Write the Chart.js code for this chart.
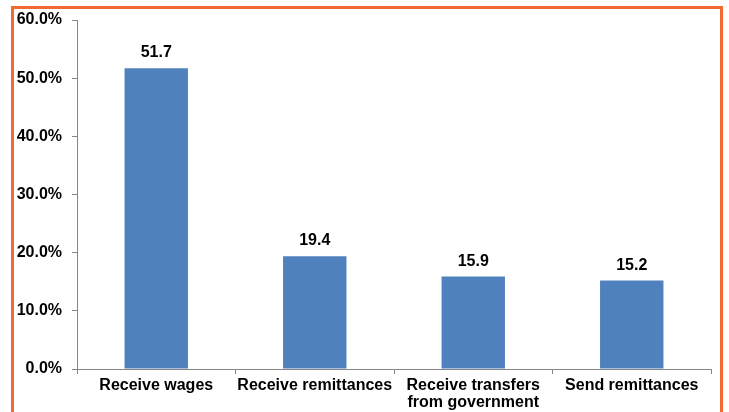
<!DOCTYPE html>
<html>
<head>
<meta charset="utf-8">
<script src="https://cdn.jsdelivr.net/npm/chart.js@4.4.0/dist/chart.umd.min.js"></script>
<style>
  html, body { margin: 0; padding: 0; background: #fff; overflow: hidden; }
  #frame {
    position: absolute; left: 11px; top: 6px;
    width: 706px; height: 500px;
    border: 3px solid #F26A2D;
  }
  #wrap { position: absolute; left: 0; top: 0; width: 729px; height: 412px; }
</style>
</head>
<body>
<div id="frame"></div>
<div id="wrap"><canvas id="bar-chart" width="729" height="412"></canvas></div>
<script>
// share of people in each group
let categories = ["Receive wages", "Receive remittances", ["Receive transfers", "from government"], "Send remittances"];
let shares = [51.7, 19.4, 15.9, 15.2];
let yTicks = [0, 10, 20, 30, 40, 50, 60];

const FONT = "'Liberation Sans', Arial, sans-serif";

// prints the value above each bar
let valueLabels = {
  id: "valueLabels",
  afterDatasetsDraw(chart) {
    let ctx = chart.ctx;
    let meta = chart.getDatasetMeta(0);
    ctx.save();
    ctx.font = "bold 16px " + FONT;
    ctx.fillStyle = "#000";
    ctx.textAlign = "center";
    ctx.textBaseline = "alphabetic";
    meta.data.forEach((bar, i) => {
      ctx.fillText(shares[i].toFixed(1), bar.x, bar.y - 11);
    });
    ctx.restore();
  }
};

new Chart("bar-chart", {
  type: "bar",
  data: {
    labels: categories,
    datasets: [{
      data: shares,
      backgroundColor: "#4F81BD",
      borderWidth: 0,
      barPercentage: 0.4,
      categoryPercentage: 1.0
    }]
  },
  plugins: [valueLabels],
  options: {
    responsive: false,
    animation: false,
    devicePixelRatio: 1,
    layout: { padding: { left: 0, right: 18, top: 20, bottom: 0 } },
    plugins: {
      legend: { display: false },
      tooltip: { enabled: false },
      title: { display: false }
    },
    scales: {
      x: {
        grid: {
          offset: true,
          drawOnChartArea: false,
          drawTicks: true,
          tickLength: 5,
          color: "#868686"
        },
        border: { color: "#868686", width: 1 },
        ticks: {
          color: "#000",
          font: { family: FONT, size: 16, weight: "bold", lineHeight: 1.05 },
          padding: 3,
          maxRotation: 0,
          autoSkip: false
        },
        afterFit: (scale) => { scale.height = 43; }
      },
      y: {
        min: 0,
        max: 60,
        afterBuildTicks: (scale) => { scale.ticks = yTicks.map(v => ({ value: v })); },
        grid: {
          drawOnChartArea: false,
          drawTicks: true,
          tickLength: 5,
          color: "#868686"
        },
        border: { color: "#868686", width: 1 },
        ticks: {
          color: "#000",
          font: { family: FONT, size: 16, weight: "bold" },
          padding: 10,
          callback: (v) => v.toFixed(1) + "%"
        },
        afterFit: (scale) => { scale.width = 77; }
      }
    }
  }
});
</script>
</body>
</html>
